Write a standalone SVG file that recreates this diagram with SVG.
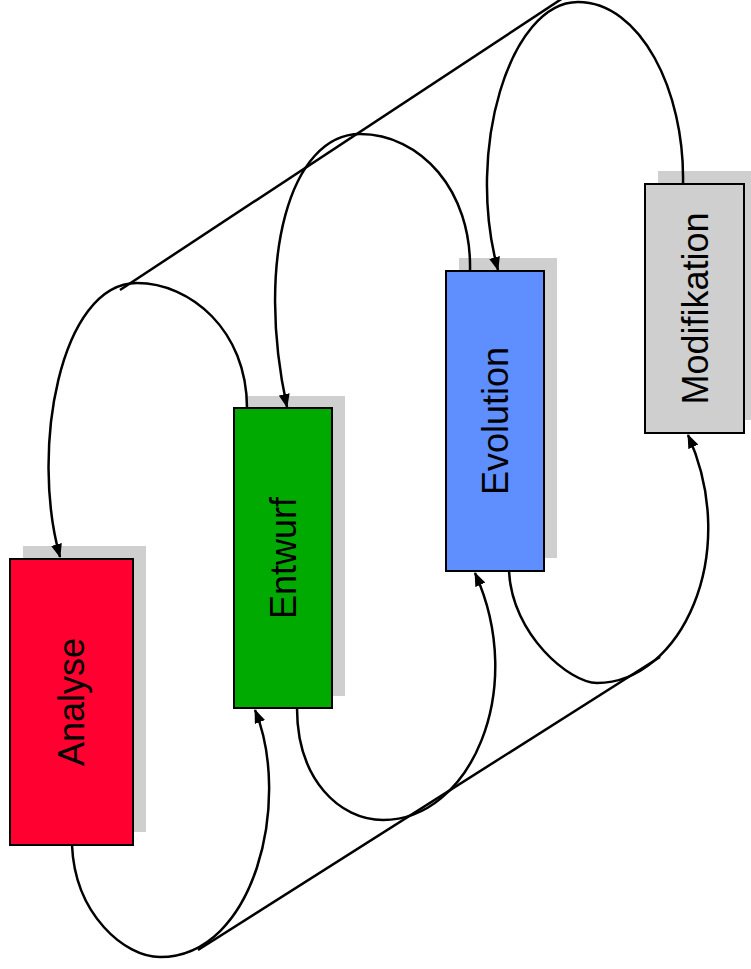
<svg xmlns="http://www.w3.org/2000/svg" width="751" height="969" viewBox="0 0 751 969">
  <style>
    .shadow { fill: #cfcfcf; stroke: none; }
    .box { stroke: #000; stroke-width: 2; }
    .label { font-family: "Liberation Sans", Arial, sans-serif; font-size: 36px; fill: #000; text-anchor: middle; }
    .conn { fill: none; stroke: #000; stroke-width: 2.5; }
  </style>
  <defs>
    <marker id="arrow" viewBox="0 0 14 11" refX="13" refY="5.5" markerWidth="14" markerHeight="11" markerUnits="userSpaceOnUse" orient="auto">
      <path d="M0,0 L14,5.5 L0,11 z" fill="#000"/>
    </marker>
  </defs>

  <rect width="751" height="969" fill="#fff"/>

  <!-- phase boxes -->
  <g id="analyse">
    <rect class="shadow" x="23" y="546" width="123" height="286"/>
    <rect class="box" x="10" y="559" width="123" height="286" fill="#ff0030"/>
    <text class="label" transform="translate(83.5,702) rotate(-90)">Analyse</text>
  </g>
  <g id="entwurf">
    <rect class="shadow" x="247" y="396" width="98" height="300"/>
    <rect class="box" x="234" y="408" width="98" height="300" fill="#00aa00"/>
    <text class="label" transform="translate(296,558) rotate(-90)">Entwurf</text>
  </g>
  <g id="evolution">
    <rect class="shadow" x="459" y="258" width="98" height="300"/>
    <rect class="box" x="446" y="271" width="98" height="300" fill="#5f8fff"/>
    <text class="label" transform="translate(508,421) rotate(-90)">Evolution</text>
  </g>
  <g id="modifikation">
    <rect class="shadow" x="658" y="171" width="99" height="249"/>
    <rect class="box" x="645" y="184" width="99" height="249" fill="#cfcfcf"/>
    <text class="label" transform="translate(707.5,308.5) rotate(-90)">Modifikation</text>
  </g>

  <!-- loops and envelope lines -->
  <g id="connectors">
    <!-- upper envelope -->
    <line class="conn" x1="120" y1="290" x2="566" y2="-4"/>
    <!-- lower envelope -->
    <line class="conn" x1="198" y1="950" x2="660" y2="657"/>

    <!-- top loops: back to previous phase -->
    <path class="conn" marker-end="url(#arrow)" d="M247,408 C247,330 190,283 137,283 C60,283 30,450 60,557"/>
    <path class="conn" marker-end="url(#arrow)" d="M470,271 C472,190 420,134 360,134 C290,134 255,260 287,407"/>
    <path class="conn" marker-end="url(#arrow)" d="M683,184 C685,90 640,2 578,2 C510,2 465,150 498,270"/>

    <!-- bottom loops: forward to next phase -->
    <path class="conn" marker-end="url(#arrow)" d="M72,845 C75,915 125,957 160,957 C255,957 292,800 255,710"/>
    <path class="conn" marker-end="url(#arrow)" d="M297,708 C297,780 340,820 383,820 C470,820 528,690 475,573"/>
    <path class="conn" marker-end="url(#arrow)" d="M509,571 C512,635 570,683 597,683 C680,683 742,555 688,435"/>
  </g>
</svg>
